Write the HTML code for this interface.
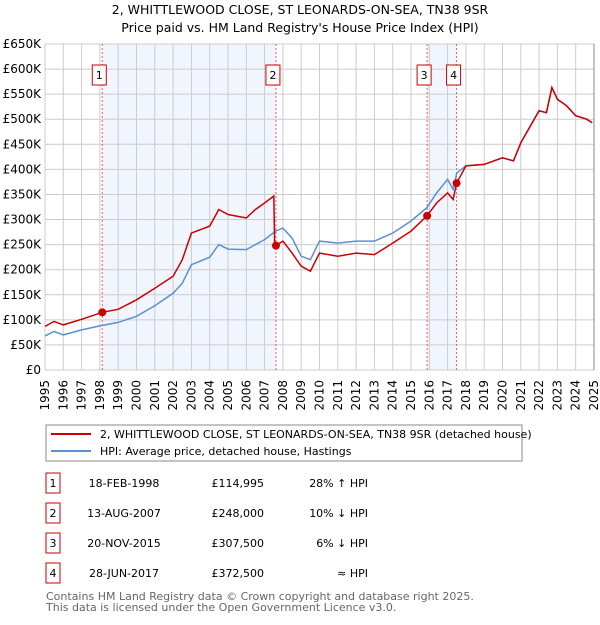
<!DOCTYPE html>
<html><head><meta charset="utf-8"><style>
body{margin:0;background:#fff;font-family:"Liberation Sans","DejaVu Sans",sans-serif;}
svg text{font-family:"DejaVu Sans","Liberation Sans",sans-serif;}
</style></head><body>
<svg id="c" width="600" height="620" xmlns="http://www.w3.org/2000/svg">
<text x="300" y="14" font-size="12.5" text-anchor="middle">2, WHITTLEWOOD CLOSE, ST LEONARDS-ON-SEA, TN38 9SR</text>
<text x="300" y="32" font-size="12.5" text-anchor="middle">Price paid vs. HM Land Registry's House Price Index (HPI)</text>
<g id="plot"></g>
<rect x="46" y="425" width="476" height="36" fill="#fff" stroke="#888"/>
<line x1="51" y1="434" x2="91" y2="434" stroke="#cc0000" stroke-width="2"/>
<text x="100" y="438" font-size="11">2, WHITTLEWOOD CLOSE, ST LEONARDS-ON-SEA, TN38 9SR (detached house)</text>
<line x1="51" y1="451" x2="91" y2="451" stroke="#5b8fd4" stroke-width="2"/>
<text x="100" y="455" font-size="11">HPI: Average price, detached house, Hastings</text>
<g id="tbl" font-size="11"></g>
<text x="46" y="600" font-size="11" fill="#666">Contains HM Land Registry data © Crown copyright and database right 2025.</text>
<text x="46" y="611" font-size="11" fill="#666">This data is licensed under the Open Government Licence v3.0.</text>
</svg>
<script>
const yTicks=[0,50,100,150,200,250,300,350,400,450,500,550,600,650];
const years=[1995,1996,1997,1998,1999,2000,2001,2002,2003,2004,2005,2006,2007,2008,2009,2010,2011,2012,2013,2014,2015,2016,2017,2018,2019,2020,2021,2022,2023,2024,2025];
const hpiDates=[1995,1995.5,1996,1997,1998,1999,2000,2001,2002,2002.5,2003,2004,2004.5,2005,2006,2006.5,2007,2007.6,2008,2008.5,2009,2009.5,2010,2011,2012,2013,2014,2015,2015.85,2016.4,2017,2017.3,2017.5,2018,2019,2020,2020.6,2021,2022,2022.4,2022.7,2023,2023.5,2024,2024.6,2024.9];
const hpiVals=[68,77,70,80,88,95,107,128,153,173,210,225,250,241,240,250,260,277,283,263,227,220,257,253,257,257,273,297,323,353,380,360,393,407,410,423,417,453,517,513,563,540,527,507,500,493];
const redDates=[1995,1995.5,1996,1997,1998.13,1999,2000,2001,2002,2002.5,2003,2004,2004.5,2005,2006,2006.5,2007,2007.5,2007.55,2007.62,2008,2008.5,2009,2009.5,2010,2011,2012,2013,2014,2015,2015.88,2016.4,2017,2017.3,2017.49,2018,2019,2020,2020.6,2021,2022,2022.4,2022.7,2023,2023.5,2024,2024.6,2024.9];
const redVals=[87,97,90,101,115,121,140,163,187,220,273,287,320,310,303,320,333,347,247,248,257,233,207,197,233,227,233,230,253,277,307.5,333,353,340,372.5,407,410,423,417,453,517,513,563,540,527,507,500,493];
const saleDates=[1998.13,2007.62,2015.88,2017.49];
const saleVals=[114.995,248,307.5,372.5];
const saleLabels=["1","2","3","4"];
const saleDateText=["18-FEB-1998","13-AUG-2007","20-NOV-2015","28-JUN-2017"];
const salePriceText=["£114,995","£248,000","£307,500","£372,500"];
const saleHpiText=["28% ↑ HPI","10% ↓ HPI","6% ↓ HPI","≈ HPI"];
const NS="http://www.w3.org/2000/svg";
const X0=45,X1=594,Y0=370,Y1=44;
const xs=t=>X0+(t-1995)*(X1-X0)/30;
const ys=v=>Y0-v*(Y0-Y1)/650;
function mk(tag,a,p){const e=document.createElementNS(NS,tag);for(const k in a)e.setAttribute(k,a[k]);(p||plot).appendChild(e);return e;}
const plot=document.getElementById('plot');
for(const [a,b] of [[0,1],[2,3]]){
 const r=mk('rect',{x:xs(saleDates[a]),y:Y1,width:xs(saleDates[b])-xs(saleDates[a]),height:Y0-Y1,fill:'#eef3fc',opacity:0.8});
 
 
}
for(const v of yTicks){
 const l=mk('line',{x1:X0,x2:X1,y1:ys(v),y2:ys(v),stroke:'#ccc'});
 
 
 const t=mk('text',{x:41,y:ys(v)+4,'font-size':12,'text-anchor':'end'});
 t.textContent=v===0?'£0':'£'+v+'K';
 
 
}
for(const y of years){
 const l=mk('line',{x1:xs(y),x2:xs(y),y1:Y1,y2:Y0,stroke:'#ccc'});
 
 
 const t=mk('text',{x:0,y:0,'font-size':12,'text-anchor':'end',transform:`translate(${xs(y)+4},380) rotate(-90)`});
 t.textContent=y;
 
 
}
const ax=mk('line',{x1:X1,x2:X1,y1:Y1,y2:Y0,stroke:'#888'});


for(let i=0;i<saleDates.length;i++){
 const l=mk('line',{x1:xs(saleDates[i]),x2:xs(saleDates[i]),y1:Y1,y2:Y0,stroke:'#e06060','stroke-dasharray':'2,2'});
 
 
}
const pts=(d,v)=>d.map((t,i)=>xs(t).toFixed(1)+','+ys(v[i]).toFixed(1)).join(' ');
const hp=mk('polyline',{points:pts(hpiDates,hpiVals),fill:'none',stroke:'#5b8fd4','stroke-width':1.5});


const rp=mk('polyline',{points:pts(redDates,redVals),fill:'none',stroke:'#cc0000','stroke-width':1.5});


for(let i=0;i<saleDates.length;i++){
 const c=mk('circle',{cx:xs(saleDates[i]),cy:ys(saleVals[i]),r:4,fill:'#cc0000'});
 
 
 const bx=xs(saleDates[i])-10;
 const r=mk('rect',{x:bx,y:65,width:14,height:20,fill:'#fff',stroke:'#cc0000'});
 
 
 const t=mk('text',{x:bx+7,y:79,'font-size':11,'text-anchor':'middle'});
 t.textContent=saleLabels[i];
 
 
}
const tbl=document.getElementById('tbl');
const rowY=[483,513,543,573];
for(let i=0;i<4;i++){
 const r=mk('rect',{x:46,y:rowY[i]-10,width:14,height:20,fill:'#fff',stroke:'#cc0000'},tbl);
 
 
 const cells=[[53,'middle',saleLabels[i],'table-row-number'],[124,'middle',saleDateText[i],'table-date'],[264,'end',salePriceText[i],'table-price'],[368,'end',saleHpiText[i],'table-hpi-diff']];
 for(const [x,a,s,n] of cells){
  const t=mk('text',{x:x,y:rowY[i]+4,'text-anchor':a},tbl);
  t.textContent=s;
  
  
 }
}
</script>
</body></html>
